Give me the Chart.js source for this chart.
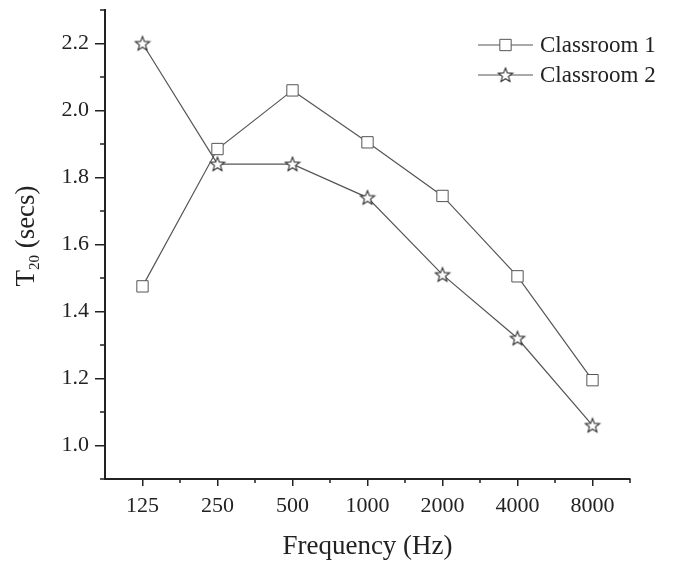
<!DOCTYPE html>
<html>
<head>
<meta charset="utf-8">
<script src="https://cdn.jsdelivr.net/npm/chart.js@4"></script>
<style>
  body { margin: 0; background: #fff; }
  canvas { display: block; }
</style>
</head>
<body>
<canvas id="chart" width="680" height="568"></canvas>
<script>
// Reverberation time per octave band
const frequencies = ["125", "250", "500", "1000", "2000", "4000", "8000"];
const classroom1 = [1.475, 1.885, 2.06, 1.905, 1.745, 1.505, 1.195];
const classroom2 = [2.2, 1.84, 1.84, 1.74, 1.51, 1.32, 1.06];
const yTicks = [1.0, 1.2, 1.4, 1.6, 1.8, 2.0, 2.2];
const yMinorTicks = [0.9, 1.1, 1.3, 1.5, 1.7, 1.9, 2.1, 2.3];

const SERIF = "'Liberation Serif', 'DejaVu Serif', serif";
const LINE = "#555";
const INK = "#222";

// open five-point star marker
function makeStar() {
  const c = document.createElement("canvas");
  c.width = 18; c.height = 18;
  const g = c.getContext("2d");
  g.beginPath();
  for (let i = 0; i < 10; i++) {
    const r = i % 2 === 0 ? 7.5 : 3.2;
    const a = -Math.PI / 2 + i * Math.PI / 5;
    const px = 9 + r * Math.cos(a), py = 9.5 + r * Math.sin(a);
    i === 0 ? g.moveTo(px, py) : g.lineTo(px, py);
  }
  g.closePath();
  g.fillStyle = "#fff";
  g.fill();
  g.strokeStyle = "#333";
  g.lineWidth = 1.1;
  g.stroke();
  return c;
}
const star = makeStar();

const extras = {
  id: "extras",
  afterDraw(chart) {
    const { ctx, scales: { x, y } } = chart;
    ctx.save();
    ctx.strokeStyle = INK;
    ctx.lineWidth = 1.5;
    // minor ticks
    ctx.beginPath();
    for (let i = 0; i < frequencies.length; i++) {
      const px = x.getPixelForTick(i) + (x.getPixelForTick(1) - x.getPixelForTick(0)) / 2;
      ctx.moveTo(px, y.bottom); ctx.lineTo(px, y.bottom + 4);
    }
    yMinorTicks.forEach(v => {
      const py = y.getPixelForValue(v);
      ctx.moveTo(x.left, py); ctx.lineTo(x.left - 5, py);
    });
    ctx.stroke();

    // axis titles
    ctx.fillStyle = INK;
    ctx.font = "27px " + SERIF;
    ctx.textAlign = "center";
    ctx.textBaseline = "middle";
    ctx.fillText("Frequency (Hz)", (x.left + x.right) / 2, 547);

    ctx.save();
    ctx.translate(25, 236);
    ctx.rotate(-Math.PI / 2);
    ctx.textAlign = "left";
    ctx.textBaseline = "alphabetic";
    ctx.font = "27px " + SERIF;
    const wT = ctx.measureText("T").width;
    ctx.font = "15px " + SERIF;
    const wSub = ctx.measureText("20").width;
    ctx.font = "27px " + SERIF;
    const wRest = ctx.measureText(" (secs)").width;
    let sx = -(wT + wSub + wRest) / 2;
    ctx.fillText("T", sx, 9);
    sx += wT;
    ctx.font = "15px " + SERIF;
    ctx.fillText("20", sx, 14);
    sx += wSub;
    ctx.font = "27px " + SERIF;
    ctx.fillText(" (secs)", sx, 9);
    ctx.restore();

    // legend
    const rows = [
      { label: "Classroom 1", y: 45, ds: 0 },
      { label: "Classroom 2", y: 75, ds: 1 }
    ];
    ctx.font = "23px " + SERIF;
    ctx.textAlign = "left";
    rows.forEach(r => {
      ctx.strokeStyle = LINE;
      ctx.lineWidth = 1.2;
      ctx.beginPath();
      ctx.moveTo(478, r.y); ctx.lineTo(533, r.y);
      ctx.stroke();
      const d = chart.data.datasets[r.ds];
      ctx.fillStyle = "#fff";
      ctx.strokeStyle = LINE;
      ctx.lineWidth = 1;
      Chart.helpers.drawPoint(ctx, {
        pointStyle: d.pointStyle, radius: d.pointRadius, borderWidth: 1, rotation: 0
      }, 505.5, r.y);
      ctx.fillStyle = INK;
      ctx.fillText(r.label, 540, r.y + 1);
    });
    ctx.restore();
  }
};

new Chart(document.getElementById("chart"), {
  type: "line",
  data: {
    labels: frequencies,
    datasets: [
      {
        label: "Classroom 1",
        data: classroom1,
        borderColor: LINE,
        borderWidth: 1.2,
        pointStyle: "rect",
        pointRadius: 8,
        pointBackgroundColor: "#fff",
        pointBorderColor: LINE,
        pointBorderWidth: 1
      },
      {
        label: "Classroom 2",
        data: classroom2,
        borderColor: LINE,
        borderWidth: 1.2,
        pointStyle: star,
        pointRadius: 8,
        pointBackgroundColor: "#fff",
        pointBorderColor: LINE
      }
    ]
  },
  options: {
    responsive: false,
    animation: false,
    layout: { padding: { top: 10, right: 50, left: 0, bottom: 0 } },
    plugins: { legend: { display: false }, tooltip: { enabled: false } },
    scales: {
      x: {
        type: "category",
        offset: true,
        afterFit: s => { s.height = 89; },
        border: { color: INK, width: 2 },
        grid: { drawOnChartArea: false, tickLength: 7, color: INK, lineWidth: 1.5 },
        ticks: { padding: 7, color: INK, font: { family: SERIF, size: 22 }, maxRotation: 0 }
      },
      y: {
        min: 0.9,
        max: 2.3,
        afterFit: s => { s.width = 105; s.paddingTop = 0; s.paddingBottom = 0; },
        afterBuildTicks: s => { s.ticks = yTicks.map(v => ({ value: v })); },
        border: { color: INK, width: 2 },
        grid: { drawOnChartArea: false, tickLength: 10, color: INK, lineWidth: 1.5 },
        ticks: {
          padding: 6, color: INK, font: { family: SERIF, size: 22 },
          callback: v => v.toFixed(1)
        }
      }
    }
  },
  plugins: [extras]
});
</script>
</body>
</html>
